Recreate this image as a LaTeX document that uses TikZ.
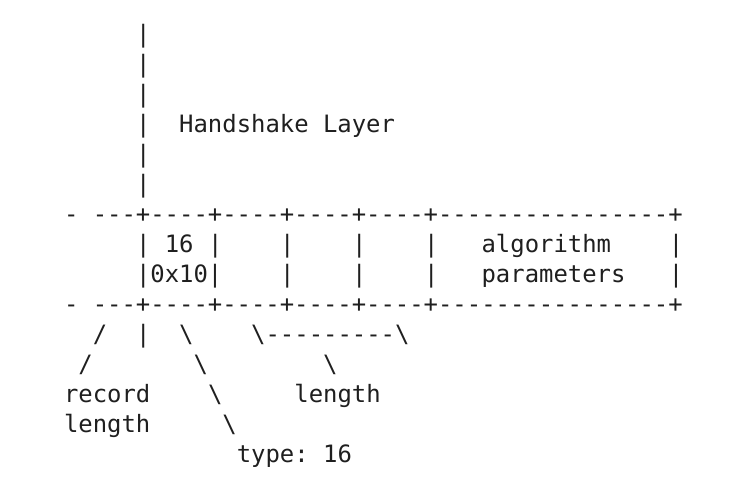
\documentclass[tikz,border=0pt]{standalone}
\usepackage{fontspec}
\setmonofont{DejaVu Sans Mono}
\newcommand\frag[4]{\node[txt] (#1) at ({63.8+14.4*#2},{42+30*#3}) {#4};}
\newcommand\bs{\textbackslash}
\begin{document}
\begin{tikzpicture}[x=1pt,y=-1pt,
  txt/.style={inner sep=0pt, anchor=base west,
    font=\ttfamily\fontsize{23.9}{30}\selectfont, text=black!88}]
\useasboundingbox (0,0) rectangle (756,498);
% vertical line above
\frag{b0}{5}{0}{|}
\frag{b1}{5}{1}{|}
\frag{b2}{5}{2}{|}
\frag{b3}{5}{3}{|}
\frag{b4}{5}{4}{|}
\frag{b5}{5}{5}{|}
\frag{hs}{8}{3}{Handshake Layer}
% top border
\frag{ta}{0}{6}{-}
\frag{tb}{2}{6}{---+----+----+----+----+----------------+}
% row 7
\frag{r7a}{5}{7}{|}
\frag{r7b}{7}{7}{16}
\frag{r7c}{10}{7}{|}
\frag{r7d}{15}{7}{|}
\frag{r7e}{20}{7}{|}
\frag{r7f}{25}{7}{|}
\frag{r7g}{29}{7}{algorithm}
\frag{r7h}{42}{7}{|}
% row 8
\frag{r8a}{5}{8}{|0x10|}
\frag{r8d}{15}{8}{|}
\frag{r8e}{20}{8}{|}
\frag{r8f}{25}{8}{|}
\frag{r8g}{29}{8}{parameters}
\frag{r8h}{42}{8}{|}
% bottom border
\frag{ba}{0}{9}{-}
\frag{bb}{2}{9}{---+----+----+----+----+----------------+}
% pointers
\frag{p1}{2}{10}{/}
\frag{p2}{5}{10}{|}
\frag{p3}{8}{10}{\bs}
\frag{p4}{13}{10}{\bs---------\bs}
\frag{q1}{1}{11}{/}
\frag{q2}{9}{11}{\bs}
\frag{q3}{18}{11}{\bs}
\frag{rec}{0}{12}{record}
\frag{s2}{10}{12}{\bs}
\frag{len}{16}{12}{length}
\frag{rlen}{0}{13}{length}
\frag{t2}{11}{13}{\bs}
\frag{type}{12}{14}{type: 16}
\end{tikzpicture}
\end{document}
